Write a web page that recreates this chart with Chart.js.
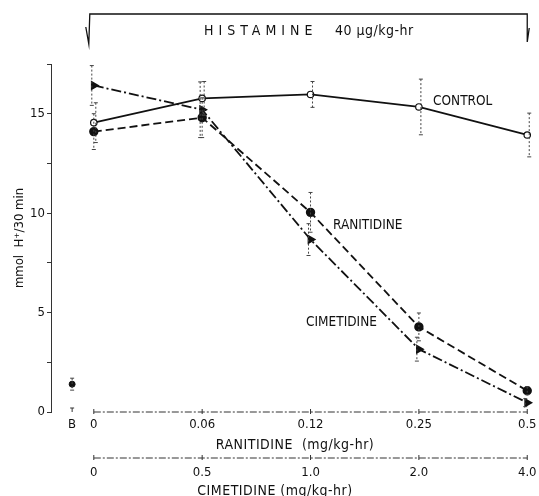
<!DOCTYPE html>
<html>
<head>
<meta charset="utf-8">
<script src="https://cdn.jsdelivr.net/npm/chart.js@4"></script>
<style>
  body { margin: 0; background: #fff; }
  #wrap { width: 539px; height: 496px; }
</style>
</head>
<body>
<div id="wrap"><canvas id="chart" width="539" height="496"></canvas></div>
<script>
// doses (x categories) for the two drugs, on a shared axis
const ranitidineDoses = ['0', '0.06', '0.12', '0.25', '0.5'];
const cimetidineDoses = ['0', '0.5', '1.0', '2.0', '4.0'];

// mmol H+/30 min
const control = [14.55, 15.77, 15.97, 15.34, 13.93];
const ranitidine = [14.1, 14.8, 10.04, 4.28, 1.07];
const cimetidine = [16.42, 15.2, 8.67, 3.16, 0.47];

// standard errors
const controlErr = [1.0, 0.85, 0.65, 1.4, 1.1];
const ranitidineErr = [0.9, 1.0, 1.0, 0.7, 0.2];
const cimetidineErr = [1.0, 1.4, 0.8, 0.6, 0.2];

// basal (B) value
const basal = 1.4;
const basalErr = 0.3;

const yTicks = [0, 2.5, 5, 7.5, 10, 12.5, 15, 17.5];

const FONT = "'DejaVu Sans Condensed', 'Liberation Sans Narrow', 'DejaVu Sans', sans-serif";
const INK = '#111';
const basalPos = -0.2;

function pts(arr) {
    return arr.map((v, i) => ({ x: i, y: v }));
}

// error bars, drawn through the chart scales
const errorBars = {
    id: 'errorBars',
    afterDatasetsDraw(chart) {
        const ctx = chart.ctx;
        const xs = chart.scales.x, ys = chart.scales.y;
        ctx.save();
        chart.data.datasets.forEach(ds => {
            if (!ds.errors) return;
            ds.data.forEach((p, i) => {
                const e = ds.errors[i];
                const x = xs.getPixelForValue(p.x) + (ds.errShift || 0);
                const top = ys.getPixelForValue(p.y + e);
                const bot = ys.getPixelForValue(p.y - e);
                ctx.strokeStyle = '#444';
                ctx.lineWidth = 1;
                ctx.setLineDash([2, 2]);
                ctx.beginPath();
                ctx.moveTo(x, top);
                ctx.lineTo(x, bot);
                ctx.stroke();
                ctx.setLineDash([]);
                ctx.beginPath();
                ctx.moveTo(x - 2, top); ctx.lineTo(x + 2, top);
                ctx.moveTo(x - 2, bot); ctx.lineTo(x + 2, bot);
                ctx.stroke();
            });
        });
        ctx.restore();
    }
};

// dose axes, histamine bracket and curve labels
const decorations = {
    id: 'decorations',
    afterDraw(chart) {
        const ctx = chart.ctx;
        const xs = chart.scales.x, ys = chart.scales.y;
        const x0 = xs.getPixelForValue(0);
        const x4 = xs.getPixelForValue(ranitidineDoses.length - 1);
        const yZero = ys.getPixelForValue(0);
        ctx.save();
        ctx.strokeStyle = '#333';
        ctx.fillStyle = INK;
        ctx.lineWidth = 1;

        const axes = [
            { y: yZero, labels: ranitidineDoses, labelY: yZero + 13, title: 'RANITIDINE  (mg/kg-hr)', titleX: 295, titleY: yZero + 33 },
            { y: yZero + 46, labels: cimetidineDoses, labelY: yZero + 61, title: 'CIMETIDINE (mg/kg-hr)', titleX: 275, titleY: yZero + 79 }
        ];
        axes.forEach(a => {
            ctx.setLineDash([7, 2, 2, 2]);
            ctx.beginPath();
            ctx.moveTo(x0, a.y);
            ctx.lineTo(x4, a.y);
            ctx.stroke();
            ctx.setLineDash([]);
            ctx.beginPath();
            a.labels.forEach((l, i) => {
                const x = xs.getPixelForValue(i);
                ctx.moveTo(x, a.y - 3);
                ctx.lineTo(x, a.y + 2);
            });
            ctx.stroke();
            ctx.font = '13px ' + FONT;
            ctx.textAlign = 'center';
            ctx.textBaseline = 'middle';
            a.labels.forEach((l, i) => {
                ctx.fillText(l, xs.getPixelForValue(i), a.labelY);
            });
            ctx.font = '14px ' + FONT;
            ctx.letterSpacing = '0.5px';
            ctx.fillText(a.title, a.titleX, a.titleY);
            ctx.letterSpacing = '0px';
        });

        // B marker on the baseline
        const xb = xs.getPixelForValue(basalPos);
        ctx.beginPath();
        ctx.moveTo(xb, yZero - 4); ctx.lineTo(xb, yZero);
        ctx.moveTo(xb - 2, yZero - 4); ctx.lineTo(xb + 2, yZero - 4);
        ctx.stroke();
        ctx.font = '13px ' + FONT;
        ctx.fillText('B', xb, yZero + 13);

        // histamine infusion bracket
        const bl = x0 - 5, br = x4;
        ctx.strokeStyle = INK;
        ctx.lineWidth = 1.3;
        ctx.beginPath();
        ctx.moveTo(bl - 3, 27); ctx.lineTo(bl, 44); ctx.lineTo(bl + 1, 14);
        ctx.lineTo(br, 14);
        ctx.lineTo(br, 42);
        ctx.moveTo(br, 42); ctx.lineTo(br + 2, 28);
        ctx.stroke();
        ctx.font = '500 14px ' + FONT;
        ctx.textAlign = 'left';
        ctx.letterSpacing = '5px';
        ctx.fillText('HISTAMINE', 204, 31);
        ctx.letterSpacing = '0.5px';
        ctx.fillText('40 µg/kg-hr', 335, 31);
        ctx.letterSpacing = '0px';

        // curve labels
        ctx.font = '500 13.5px ' + FONT;
        ctx.fillText('CONTROL', 433, 101);
        ctx.fillText('RANITIDINE', 333, 225);
        ctx.fillText('CIMETIDINE', 306, 322);
        ctx.restore();
    }
};

new Chart(document.getElementById('chart'), {
    type: 'line',
    data: {
        datasets: [
            {
                label: 'Control',
                data: pts(control),
                errors: controlErr,
                errShift: 2,
                borderColor: INK,
                borderWidth: 1.8,
                pointStyle: 'circle',
                pointRadius: 3.2,
                pointBackgroundColor: '#fff',
                pointBorderColor: INK,
                pointBorderWidth: 1.2
            },
            {
                label: 'Ranitidine',
                data: pts(ranitidine),
                errors: ranitidineErr,
                borderColor: INK,
                borderWidth: 1.8,
                borderDash: [8, 4],
                pointStyle: 'circle',
                pointRadius: 3.8,
                pointBackgroundColor: INK,
                pointBorderColor: INK
            },
            {
                label: 'Cimetidine',
                data: pts(cimetidine),
                errors: cimetidineErr,
                errShift: -2,
                borderColor: INK,
                borderWidth: 1.8,
                borderDash: [10, 3, 2, 3],
                pointStyle: 'triangle',
                pointRotation: 90,
                pointRadius: 4,
                pointBackgroundColor: INK,
                pointBorderColor: INK
            },
            {
                label: 'Basal',
                data: [{ x: basalPos, y: basal }],
                errors: [basalErr],
                showLine: false,
                pointStyle: 'circle',
                pointRadius: 3,
                pointBackgroundColor: INK,
                pointBorderColor: INK
            }
        ]
    },
    options: {
        responsive: false,
        animation: false,
        layout: { padding: { top: 64, bottom: 84, left: 0, right: 4 } },
        plugins: {
            legend: { display: false },
            tooltip: { enabled: false }
        },
        scales: {
            x: {
                type: 'linear',
                display: false,
                min: -0.395,
                max: 4.055
            },
            y: {
                min: 0,
                max: 17.5,
                afterFit(scale) { scale.width = 51; },
                afterBuildTicks(scale) { scale.ticks = yTicks.map(v => ({ value: v })); },
                grid: { drawOnChartArea: false, drawTicks: true, tickLength: 4, color: '#333' },
                border: { color: '#333', width: 1, dash: [6, 1] },
                ticks: {
                    color: INK,
                    padding: 2,
                    font: { family: FONT, size: 13 },
                    callback: v => (v % 5 === 0 ? String(v) : '')
                },
                title: {
                    display: true,
                    text: 'mmol  H⁺/30 min',
                    color: INK,
                    font: { family: FONT, size: 13 },
                    padding: { top: 12, bottom: 0 }
                }
            }
        }
    },
    plugins: [errorBars, decorations]
});
</script>
</body>
</html>
